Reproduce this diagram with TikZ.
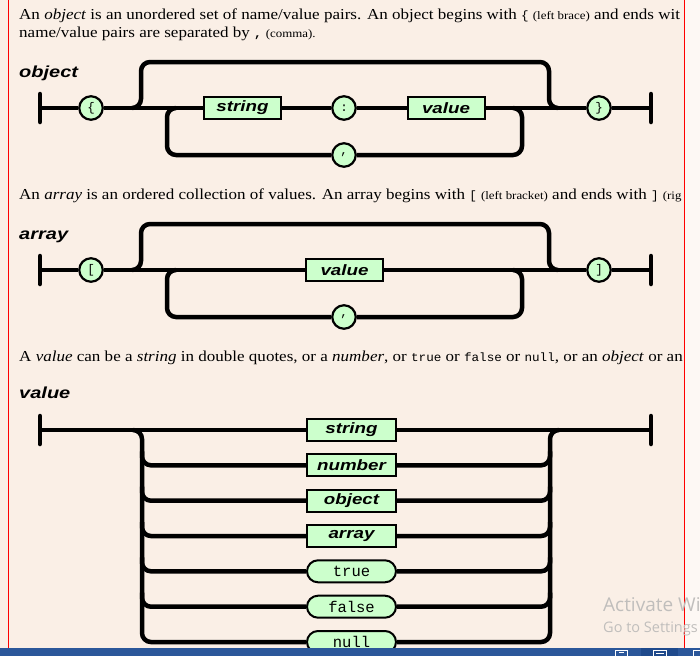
\documentclass[tikz,border=0pt]{standalone}
\usepackage{fontspec}
\usetikzlibrary{calc}
\setmainfont{Liberation Serif}[FakeStretch=1.12]
\newfontfamily\labfont[FakeStretch=1.25]{Liberation Sans}
\newfontfamily\monofont{Liberation Mono}
\newfontfamily\txtmono[FakeStretch=1.05]{Liberation Mono}
\newfontfamily\wmfont{Open Sans}
\pgfdeclarelayer{back}
\pgfdeclarelayer{rails}
\pgfdeclarelayer{front}
\pgfsetlayers{back,rails,main,front}
\definecolor{pagebg}{RGB}{250,239,230}
\definecolor{outbg}{RGB}{253,248,244}
\definecolor{boxgreen}{RGB}{204,255,204}
\definecolor{taskbar}{RGB}{43,87,154}
\definecolor{taskhi}{RGB}{31,74,140}
\definecolor{wmgray}{RGB}{192,190,188}
\tikzset{
  rail/.style={line width=4.5pt},
  railloop/.style={line width=4.5pt, rounded corners=9pt},
  endbar/.style={line width=4.5pt, line cap=round},
  tok/.style={circle, draw, line width=2.2pt, fill=boxgreen, minimum size=23.5pt, inner sep=0pt,
    font=\monofont\fontsize{12.5}{12.5}\selectfont},
  nt/.style={rectangle, draw, line width=2pt, fill=boxgreen, minimum height=22pt, inner sep=0pt,
    font=\labfont\bfseries\itshape\fontsize{15}{15}\selectfont},
  lit/.style={rectangle, rounded corners=11pt, draw, line width=2pt, fill=boxgreen, minimum height=22pt,
    minimum width=89pt, inner sep=0pt, font=\monofont\fontsize{15.5}{15.5}\selectfont},
  para/.style={anchor=base west, inner sep=0pt, font=\fontsize{15.2}{18}\selectfont},
  lab/.style={anchor=base west, inner sep=0pt, font=\labfont\bfseries\itshape\fontsize{16}{16}\selectfont},
}
\newcommand{\sm}[1]{{\fontsize{11.5}{13}\selectfont #1}}
\newcommand{\cd}[1]{{\txtmono\fontsize{12}{13}\selectfont #1}}
\begin{document}
\begin{tikzpicture}[x=1pt,y=-1pt]
\useasboundingbox (0,0) rectangle (700,656);
\begin{pgfonlayer}{back}
  \fill[pagebg] (0,0) rectangle (700,656);
  \fill[outbg] (684,0) rectangle (700,648);
  \draw[red, line width=1pt] (8,0) -- (8,648);
  \draw[red, line width=1pt] (684,0) -- (684,648);
\end{pgfonlayer}

% ---------------- paragraphs and titles ----------------
\begin{scope}
  \clip (0,0) rectangle (683.5,656);
  \node[para] (t1) at (19,19.3) {An \textit{object} is an unordered set of name/value pairs. An object begins with \cd{\{} \sm{(left brace)} and ends wit};
  \node[para] (t2) at (19,37.5) {name/value pairs are separated by \cd{\textbf{,}} \sm{(comma).}};
  \node[para] (t3) at (19,199.5) {An \textit{array} is an ordered collection of values. An array begins with \cd{[} \sm{(left bracket)} and ends with \cd{]} \sm{(rig}};
  \node[para] (t4) at (19,361) {A \textit{value} can be a \textit{string} in double quotes, or a \textit{number}, or \cd{true} or \cd{false} or \cd{null}, or an \textit{object} or an};
\end{scope}
\node[lab] (h1) at (19,77) {object};
\node[lab] (h2) at (19,239) {array};
\node[lab] (h3) at (19,398) {value};

% ---------------- object ----------------
\coordinate (oL) at (40,108);
\coordinate (oR) at (651,108);
\coordinate (oJ1) at (132,108);
\coordinate (oJ2) at (558,108);
\coordinate (oJ3) at (513,108);
\coordinate (oJ4) at (176,108);
\node[tok] (oLb) at (91,108) {\{};
\node[nt, minimum width=77pt] (oStr) at (242.5,108) {string};
\node[tok] (oCol) at (344,108) {:};
\node[nt, minimum width=77pt] (oVal) at (446,108) {value};
\node[tok] (oRb) at (599,108) {\}};
\node[tok] (oCom) at (344,155) {,};
\begin{pgfonlayer}{rails}
  \draw[endbar] ([yshift=-14pt]oL) -- ([yshift=14pt]oL);
  \draw[endbar] ([yshift=-14pt]oR) -- ([yshift=14pt]oR);
  \draw[rail] (oL) -- (oLb) -- (oStr) -- (oCol) -- (oVal) -- (oRb) -- (oR);
  \draw[railloop] (oJ1) -| (141,62) -| (549,108) -- (oJ2);
  \draw[railloop] (oJ3) -| (522,155) -- (oCom);
  \draw[railloop] (oCom) -| (167,108) -- (oJ4);
\end{pgfonlayer}

% ---------------- array ----------------
\coordinate (aL) at (40,270);
\coordinate (aR) at (651,270);
\coordinate (aJ1) at (132,270);
\coordinate (aJ2) at (558,270);
\coordinate (aJ3) at (513,270);
\coordinate (aJ4) at (176,270);
\node[tok] (aLb) at (91,270) {[};
\node[nt, minimum width=77pt] (aVal) at (344.5,270) {value};
\node[tok] (aRb) at (599,270) {]};
\node[tok] (aCom) at (344,317) {,};
\begin{pgfonlayer}{rails}
  \draw[endbar] ([yshift=-14pt]aL) -- ([yshift=14pt]aL);
  \draw[endbar] ([yshift=-14pt]aR) -- ([yshift=14pt]aR);
  \draw[rail] (aL) -- (aLb) -- (aVal) -- (aRb) -- (aR);
  \draw[railloop] (aJ1) -| (141,224) -| (549,270) -- (aJ2);
  \draw[railloop] (aJ3) -| (522,317) -- (aCom);
  \draw[railloop] (aCom) -| (167,270) -- (aJ4);
\end{pgfonlayer}

% ---------------- value ----------------
\coordinate (vL) at (40,430);
\coordinate (vR) at (651,430);
\coordinate (vJ1) at (133,430);
\coordinate (vJ2) at (559,430);
\coordinate (vLeft) at (142,430);
\coordinate (vRight) at (550,430);
\node[nt, minimum width=89pt] (vStr) at (351.5,430) {string};
\node[nt, minimum width=89pt] (vNum) at (351.5,465.3) {number};
\node[nt, minimum width=89pt] (vObj) at (351.5,500.7) {object};
\node[nt, minimum width=89pt] (vArr) at (351.5,536) {array};
\node[lit] (vTrue) at (351.5,571.3) {true};
\node[lit] (vFalse) at (351.5,606.7) {false};
\node[lit] (vNull) at (351.5,642) {null};
\begin{pgfonlayer}{rails}
  \draw[endbar] ([yshift=-14pt]vL) -- ([yshift=14pt]vL);
  \draw[endbar] ([yshift=-14pt]vR) -- ([yshift=14pt]vR);
  \draw[rail] (vL) -- (vStr) -- (vR);
  % outer spine: top curve, vertical, bottom branch
  \draw[railloop] (vJ1) -| (vLeft |- vNull) -- (vNull);
  \draw[railloop] (vNull) -- (vRight |- vNull) |- (vJ2);
  \foreach \n in {vNum,vObj,vArr,vTrue,vFalse}{
    \draw[railloop] ($(vLeft |- \n)+(0,-14)$) |- (\n);
    \draw[railloop] (\n) -| ($(vRight |- \n)+(0,-14)$);
  }
\end{pgfonlayer}

% ---------------- screen overlay ----------------
\begin{pgfonlayer}{front}
  \node[anchor=base west, inner sep=0pt, text=wmgray, font=\wmfont\fontsize{19}{19}\selectfont] (wm1) at (603,611) {Activate Wi};
  \node[anchor=base west, inner sep=0pt, text=wmgray, font=\wmfont\fontsize{14.5}{15}\selectfont] (wm2) at (603,632) {Go to Settings};
  \fill[taskbar] (0,647.5) rectangle (700,656);
  \fill[taskhi] (641,647.5) rectangle (678,656);
  \draw[white, line width=1pt] (615.5,650) rectangle (627.5,660);
  \draw[white, line width=0.8pt] (619,652.5) -- (624,652.5);
  \draw[white, line width=1pt] (653.5,650) rectangle (666.5,660);
  \draw[white, line width=0.8pt] (656,653) -- (664,653);
  \draw[white, line width=1pt] (693.5,650) rectangle (704,660);
\end{pgfonlayer}
\end{tikzpicture}
\end{document}
